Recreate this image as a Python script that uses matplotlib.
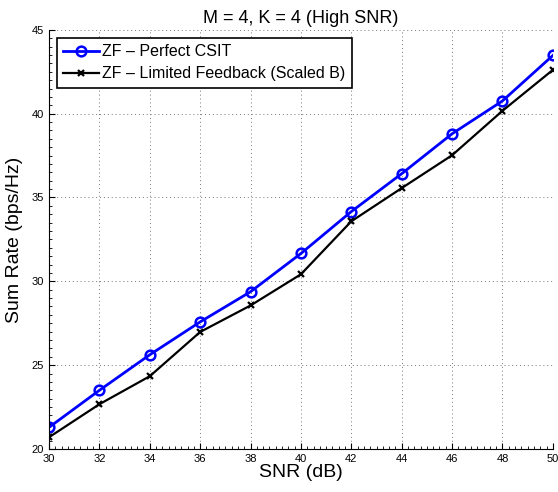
import numpy as np
import matplotlib.pyplot as plt
from matplotlib.ticker import AutoMinorLocator

plt.rcParams['font.family'] = ['Liberation Sans', 'DejaVu Sans']

snr = [30, 32, 34, 36, 38, 40, 42, 44, 46, 48, 50]
perfect_csit = [21.29, 23.50, 25.62, 27.58, 29.38, 31.66, 34.16, 36.42, 38.80, 40.76, 43.47]
limited_fb = [20.70, 22.67, 24.34, 26.98, 28.56, 30.42, 33.58, 35.56, 37.52, 40.17, 42.61]

fig = plt.figure(figsize=(5.58, 4.92), dpi=100)
ax = fig.add_axes([0.0878, 0.0874, 0.903, 0.852])

ax.plot(snr, perfect_csit, color="#0000ff", linewidth=2, marker="o", markersize=7,
        markerfacecolor="none", markeredgewidth=1.8, label="ZF \u2013 Perfect CSIT")
ax.plot(snr, limited_fb, color="#000000", linewidth=1.6, marker="x", markersize=5,
        markeredgewidth=1.6, label="ZF \u2013 Limited Feedback (Scaled B)")

ax.set_xlim(30, 50)
ax.set_ylim(20, 45)
ax.set_xticks(np.arange(30, 51, 2))
ax.set_yticks(np.arange(20, 46, 5))
ax.xaxis.set_minor_locator(AutoMinorLocator(8))
ax.yaxis.set_minor_locator(AutoMinorLocator(10))
ax.tick_params(which="both", direction="in", labelsize=8, top=False, right=False)
ax.tick_params(which="major", length=4)
ax.tick_params(which="minor", length=2)
ax.spines["top"].set_visible(False)
ax.spines["right"].set_visible(False)
ax.grid(True, which="major", linestyle=(0, (1, 3)), color="#777777", linewidth=0.7)

ax.set_xlabel("SNR (dB)", fontsize=14, labelpad=0)
ax.set_ylabel("Sum Rate (bps/Hz)", fontsize=14, labelpad=6)
ax.set_title("M = 4, K = 4 (High SNR)", fontsize=13, pad=5)

leg = ax.legend(loc="upper left", fontsize=11.5, fancybox=False, framealpha=1,
                borderaxespad=0.5, handlelength=2.2, handletextpad=0.25,
                borderpad=0.4, labelspacing=0.45)
leg.get_frame().set_edgecolor("#000000")
leg.get_frame().set_linewidth(1.2)

fig.savefig("out.png", dpi=100)
